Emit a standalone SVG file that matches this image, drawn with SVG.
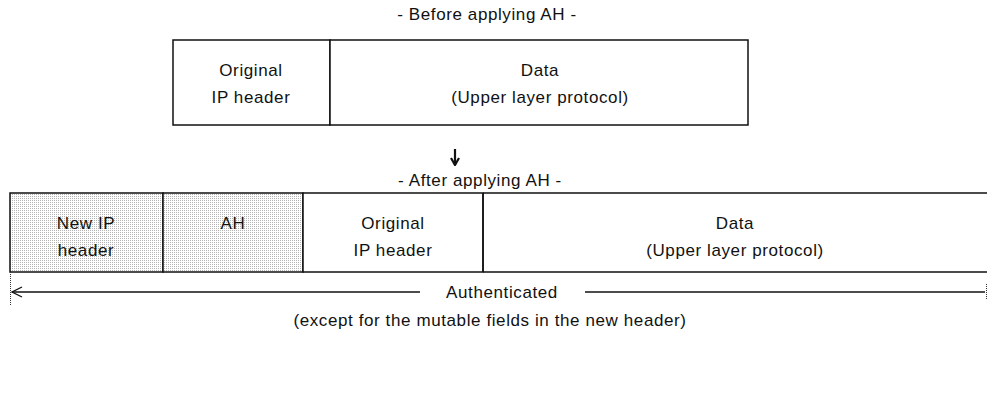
<svg xmlns="http://www.w3.org/2000/svg" width="987" height="394" viewBox="0 0 987 394">
  <style>
    .t { font-family: "Liberation Sans", Arial, sans-serif; font-size: 17px; letter-spacing: 0.6px; fill: #111; text-anchor: middle; }
    .box { fill: #fff; stroke: #111; stroke-width: 1.5; }
    .shade { fill: url(#stipple); stroke: #111; stroke-width: 1.5; }
    .ln { stroke: #111; stroke-width: 1.5; fill: none; }
    .dot { stroke: #333; stroke-width: 1; stroke-dasharray: 1 1; fill: none; }
  </style>
  <defs>
    <!-- light dotted screen for the added headers -->
    <pattern id="stipple" width="2" height="2" patternUnits="userSpaceOnUse">
      <rect width="2" height="2" fill="#ffffff"/>
      <rect width="1" height="1" fill="#b4b4b4"/>
    </pattern>
    <!-- open chevron head, tip at the end of the path -->
    <marker id="openHead" viewBox="0 0 12 12" refX="11" refY="6" markerWidth="12" markerHeight="12" markerUnits="userSpaceOnUse" orient="auto">
      <path d="M1,1 L11,6 L1,11" fill="none" stroke="#111" stroke-width="1.3"/>
    </marker>
    <marker id="downHead" viewBox="0 0 10 10" refX="9" refY="5" markerWidth="10" markerHeight="10" markerUnits="userSpaceOnUse" orient="auto">
      <path d="M2,1 L9,5 L2,9" fill="none" stroke="#111" stroke-width="2.2"/>
    </marker>
  </defs>

  <rect width="987" height="394" fill="#fff"/>

  <!-- before: original packet -->
  <text class="t" x="487" y="20">- Before applying AH -</text>
  <g id="orig-ip-header-before">
    <rect class="box" x="173" y="40" width="157" height="85"/>
    <text class="t" x="251" y="76">Original</text>
    <text class="t" x="251" y="103">IP header</text>
  </g>
  <g id="data-before">
    <rect class="box" x="330" y="40" width="418" height="85"/>
    <text class="t" x="540" y="76">Data</text>
    <text class="t" x="540" y="103">(Upper layer protocol)</text>
  </g>

  <!-- after: tunnelled packet -->
  <text class="t" x="480" y="186">- After applying AH -</text>
  <g id="new-ip-header">
    <rect class="shade" x="10" y="193" width="153" height="79"/>
    <text class="t" x="86" y="229">New IP</text>
    <text class="t" x="86" y="256">header</text>
  </g>
  <g id="ah">
    <rect class="shade" x="163" y="193" width="140" height="79"/>
    <text class="t" x="233" y="229">AH</text>
  </g>
  <g id="orig-ip-header-after">
    <rect class="box" x="303" y="193" width="180" height="79"/>
    <text class="t" x="393" y="229">Original</text>
    <text class="t" x="393" y="256">IP header</text>
  </g>
  <g id="data-after">
    <path class="ln" d="M483,193 H988 M483,272 H988 M483,193 V272"/>
    <text class="t" x="735" y="229">Data</text>
    <text class="t" x="735" y="256">(Upper layer protocol)</text>
  </g>

  <!-- connectors -->
  <g id="connectors">
    <path d="M455,149 V165" stroke="#111" stroke-width="2.2" fill="none" marker-end="url(#downHead)"/>
    <path class="dot" d="M10.5,272 V306"/>
    <path class="dot" d="M986.5,284 V300"/>
    <path class="ln" d="M420,292 H12" marker-end="url(#openHead)"/>
    <path class="ln" d="M585,292 H985"/>
    <text class="t" x="502" y="298">Authenticated</text>
    <text class="t" x="490" y="326">(except for the mutable fields in the new header)</text>
  </g>
</svg>
